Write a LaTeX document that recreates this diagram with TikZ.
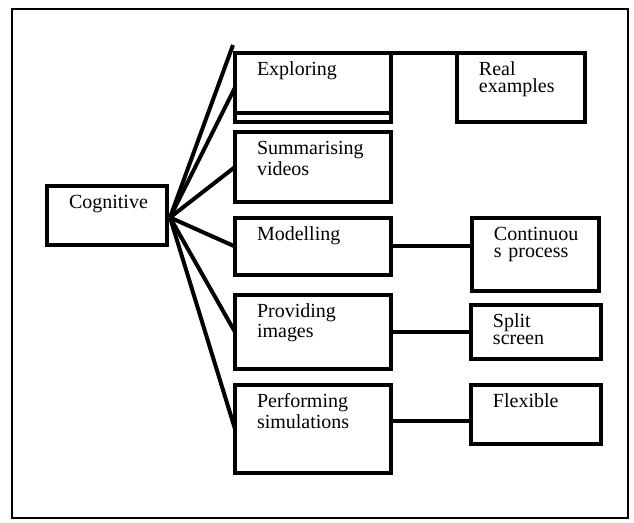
\documentclass[tikz,border=0pt]{standalone}
\usepackage{fontspec}
\setmainfont{Liberation Serif}
\usetikzlibrary{positioning}
\tikzstyle{box} = [rectangle, draw=black, line width=2pt, outer sep=0pt, align=left,
inner xsep=11pt, inner ysep=4.5pt, text height=7pt, font=\fontsize{10}{8.5}\selectfont]
\tikzstyle{link} = [line width=2pt]

\begin{document}
\begin{tikzpicture}[x=0.5pt, y=-0.5pt, node distance=8pt]
    \useasboundingbox (0,0) rectangle (634,523);
    \draw[line width=1pt] (12,9) rectangle (628,518);

    \node (cog) [box, anchor=north west, text width=38pt, text depth=13.5pt] at (47,186) {Cognitive};
    \node (explore) [box, anchor=north west, text width=56pt, text depth=18.5pt] at (235,53) {Exploring};
    \node (summ) [box, below=5pt of explore, text width=56pt, text depth=19pt] {Summarising\\videos};
    \node (model) [box, below=of summ, text width=56pt, text depth=12.5pt] {Modelling};
    \node (prov) [box, below=10pt of model, text width=56pt, text depth=21pt] {Providing\\images};
    \node (perf) [box, below=of prov, text width=56pt, text depth=28pt] {Performing\\simulations};
    \node (real) [box, right=33pt of explore, text width=42pt, text depth=18.5pt] {Real\\examples};
    \node (cont) [box, right=40.5pt of model.north east, anchor=north west, text width=41.5pt, text depth=20.5pt] {Continuou\\s process};
    \node (split) [box, right=40pt of prov, text width=43pt, text depth=11pt] {Split\\screen};
    \node (flex) [box, right=40pt of perf.north east, anchor=north west, text width=43pt, text depth=13.5pt] {Flexible};

    % second bottom edge of the exploring box
    \draw[link] ([yshift=4.5pt]explore.south west) -- ([yshift=4.5pt]explore.south east);

    \coordinate (hub) at ([xshift=1.5pt, yshift=-1pt]cog.east);
    \draw[link] (hub) -- ([xshift=-1pt, yshift=4pt]explore.north west);
    \foreach \n in {explore, summ, model, prov, perf}
        \draw[link] (hub) -- (\n.west);

    \draw[link] (explore.north east) -- (real.north west);
    \draw[link] (model.east) -- (model.east -| cont.west);
    \draw[link] (prov) -- (split);
    \draw[link] ([yshift=4pt]perf.east) -- ([yshift=4pt]perf.east -| flex.west);
\end{tikzpicture}
\end{document}
